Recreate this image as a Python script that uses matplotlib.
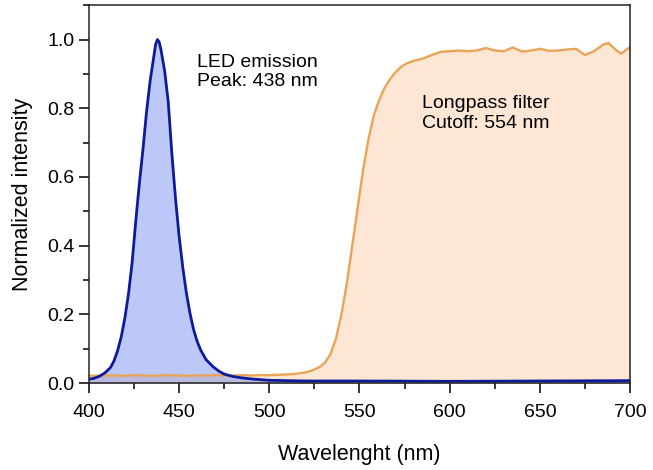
import numpy as np
import matplotlib
matplotlib.use("Agg")
import matplotlib.pyplot as plt
from matplotlib.ticker import MultipleLocator

plt.rcParams['font.family'] = ['Liberation Sans', 'DejaVu Sans']

# LED emission spectrum (normalized)
led_wl = [400, 403, 406, 409, 412, 414, 416, 418, 420, 422, 424, 426, 428, 430,
          432, 434, 436, 437, 438, 439, 440, 442, 444, 446, 448, 450, 452, 454,
          456, 458, 460, 462, 465, 469, 472, 475, 480, 485, 490, 495, 500, 510,
          520, 550, 600, 650, 700]
led_int = [0.011, 0.014, 0.020, 0.030, 0.045, 0.065, 0.095, 0.135, 0.19, 0.26,
           0.35, 0.47, 0.58, 0.68, 0.79, 0.88, 0.95, 0.985, 1.0, 0.993, 0.97,
           0.91, 0.82, 0.67, 0.54, 0.43, 0.34, 0.265, 0.205, 0.157, 0.122,
           0.096, 0.068, 0.047, 0.035, 0.026, 0.019, 0.015, 0.012, 0.010,
           0.008, 0.007, 0.006, 0.006, 0.005, 0.006, 0.007]

# longpass filter transmission (normalized)
lp_wl = [400, 405, 410, 415, 420, 425, 430, 435, 440, 445, 450, 455, 460, 465,
         470, 475, 480, 485, 490, 495, 500, 505, 510, 515, 520, 524, 528, 531,
         534, 537, 540, 543, 546, 549, 552, 555, 558, 561, 564, 567, 570, 573,
         576, 580, 585, 590, 595, 600, 605, 610, 615, 620, 625, 630, 635, 640,
         645, 650, 655, 660, 665, 670, 675, 680, 685, 688, 692, 695, 700]
lp_int = [0.022, 0.021, 0.022, 0.022, 0.021, 0.023, 0.022, 0.021, 0.022, 0.023,
          0.022, 0.021, 0.022, 0.022, 0.023, 0.022, 0.022, 0.023, 0.022, 0.023,
          0.023, 0.024, 0.025, 0.027, 0.031, 0.037, 0.047, 0.060, 0.085, 0.13,
          0.20, 0.29, 0.40, 0.51, 0.62, 0.71, 0.78, 0.825, 0.86, 0.885, 0.905,
          0.92, 0.93, 0.938, 0.944, 0.955, 0.964, 0.966, 0.968, 0.966, 0.968,
          0.975, 0.968, 0.966, 0.977, 0.965, 0.968, 0.973, 0.967, 0.968, 0.971,
          0.973, 0.955, 0.966, 0.985, 0.99, 0.97, 0.959, 0.978]

fig = plt.figure(figsize=(6.53, 4.70), dpi=100)
ax = fig.add_axes([0.136, 0.185, 0.829, 0.804])

ax.fill_between(lp_wl, lp_int, 0, color='#fde7d4', lw=0)
ax.plot(lp_wl, lp_int, color='#e9a458', lw=1.7, solid_joinstyle='round')
ax.fill_between(led_wl, led_int, 0, color='#5577ee', alpha=0.4, lw=0)
ax.plot(led_wl, led_int, color='#0d1a9c', lw=2.0, solid_joinstyle='round')

ax.text(460, 0.905, "LED emission\nPeak: 438 nm", fontsize=14, ha='left', va='center')
ax.text(584.4, 0.785, "Longpass filter\nCutoff: 554 nm", fontsize=14, ha='left', va='center')

ax.set_xlim(400, 700)
ax.set_ylim(0, 1.1)
ax.xaxis.set_major_locator(MultipleLocator(50))
ax.xaxis.set_minor_locator(MultipleLocator(25))
ax.yaxis.set_major_locator(MultipleLocator(0.2))
ax.yaxis.set_minor_locator(MultipleLocator(0.1))
ax.yaxis.set_major_formatter(matplotlib.ticker.FormatStrFormatter('%.1f'))
ax.tick_params(which='major', direction='out', length=7, width=1.1, labelsize=14)
ax.tick_params(axis='x', which='major', pad=8)
ax.tick_params(which='minor', direction='out', length=4, width=1.1)
for s in ax.spines.values():
    s.set_linewidth(1.1)
    s.set_color('#222222')

ax.set_xlabel("Wavelenght (nm)", fontsize=15.5, labelpad=17)
ax.set_ylabel("Normalized intensity", fontsize=15.5, labelpad=10)

fig.savefig("out.png", dpi=100)
